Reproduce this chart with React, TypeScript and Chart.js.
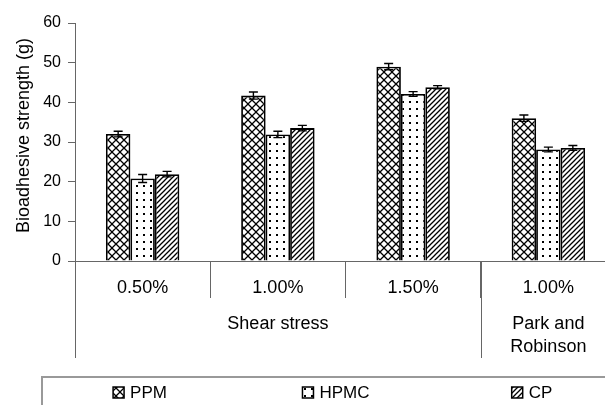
import React, { useEffect, useRef } from "react";
import { Chart, registerables } from "chart.js";

Chart.register(...registerables);

const categories = ["0.50%", "1.00%", "1.50%", "1.00%"];
const groupLines = [["Shear stress"], ["Park and", "Robinson"]];
const groupSpans = [3, 1];
const seriesNames = ["PPM", "HPMC", "CP"];
const ppm = [32.0, 41.7, 49.0, 36.0];
const hpmc = [20.8, 31.9, 42.1, 28.1];
const cp = [21.9, 33.5, 43.8, 28.5];
const ppmErr = [0.7, 0.9, 0.8, 0.8];
const hpmcErr = [1.0, 0.8, 0.6, 0.6];
const cpErr = [0.7, 0.7, 0.4, 0.6];
const yMin = 0;
const yMax = 60;
const yStep = 10;
const yTitle = "Bioadhesive strength (g)";

const FONT = '"Liberation Sans", Arial, Helvetica, sans-serif';
const AXIS_GRAY = "#666666";

function makePattern(kind: string): CanvasPattern | string {
  const c = document.createElement("canvas");
  const size = kind === "cross" ? 8 : kind === "dots" ? 7 : 5;
  c.width = size;
  c.height = size;
  const ctx = c.getContext("2d");
  if (!ctx) return "#fff";
  ctx.fillStyle = "#fff";
  ctx.fillRect(0, 0, size, size);
  ctx.strokeStyle = "#000";
  ctx.fillStyle = "#000";
  if (kind === "cross") {
    ctx.lineWidth = 1.3;
    ctx.beginPath();
    ctx.moveTo(-1, -1);
    ctx.lineTo(size + 1, size + 1);
    ctx.moveTo(-1, size + 1);
    ctx.lineTo(size + 1, -1);
    ctx.stroke();
  } else if (kind === "dots") {
    ctx.fillRect(3, 3, 2, 2);
  } else {
    ctx.lineWidth = 1.3;
    ctx.beginPath();
    ctx.moveTo(-1, size + 1);
    ctx.lineTo(size + 1, -1);
    ctx.moveTo(-1, 1);
    ctx.lineTo(1, -1);
    ctx.moveTo(size - 1, size + 1);
    ctx.lineTo(size + 1, size - 1);
    ctx.stroke();
  }
  const p = ctx.createPattern(c, "repeat");
  return p || "#fff";
}

export default function App() {
  const ref = useRef<HTMLCanvasElement | null>(null);

  useEffect(() => {
    if (!ref.current) return;
    const patterns = [makePattern("cross"), makePattern("dots"), makePattern("stripes")];
    const values = [ppm, hpmc, cp];
    const errors = [ppmErr, hpmcErr, cpErr];

    const extras = {
      id: "extras",
      afterDatasetsDraw(chart: any) {
        const ctx = chart.ctx as CanvasRenderingContext2D;
        const yScale = chart.scales.y;
        ctx.save();
        ctx.strokeStyle = "#000";
        ctx.lineWidth = 1.4;
        chart.data.datasets.forEach((ds: any, di: number) => {
          const meta = chart.getDatasetMeta(di);
          meta.data.forEach((bar: any, i: number) => {
            const v = ds.data[i];
            const e = errors[di][i];
            const yTop = yScale.getPixelForValue(v + e);
            const yBot = yScale.getPixelForValue(v - e);
            const x = bar.x;
            ctx.beginPath();
            ctx.moveTo(x, yTop);
            ctx.lineTo(x, yBot);
            ctx.moveTo(x - 4.5, yTop);
            ctx.lineTo(x + 4.5, yTop);
            ctx.moveTo(x - 4.5, yBot);
            ctx.lineTo(x + 4.5, yBot);
            ctx.stroke();
          });
        });
        ctx.restore();
      },
      afterDraw(chart: any) {
        const ctx = chart.ctx as CanvasRenderingContext2D;
        const xScale = chart.scales.x;
        const area = chart.chartArea;
        const catW = (area.right - area.left) / categories.length;
        ctx.save();
        ctx.fillStyle = "#000";
        ctx.font = `18px ${FONT}`;
        ctx.textAlign = "center";
        ctx.textBaseline = "middle";
        ctx.save();
        ctx.translate(24.5, 135.5);
        ctx.rotate(-Math.PI / 2);
        ctx.fillText(yTitle, 0, 0);
        ctx.restore();

        ctx.strokeStyle = AXIS_GRAY;
        ctx.lineWidth = 1;
        let start = 0;
        groupSpans.forEach((span, gi) => {
          const leftX = xScale.getPixelForValue(start) - catW / 2;
          const rightX = xScale.getPixelForValue(start + span - 1) + catW / 2;
          const lx = Math.round(leftX) + 0.5;
          ctx.beginPath();
          ctx.moveTo(lx, area.bottom);
          ctx.lineTo(lx, area.bottom + 97);
          ctx.stroke();
          const cx = (leftX + rightX) / 2;
          groupLines[gi].forEach((line, li) => {
            ctx.fillText(line, cx, area.bottom + 63 + li * 22.7);
          });
          start += span;
        });

        const boxLeft = 42;
        const boxTop = 377;
        const boxW = 588;
        ctx.strokeStyle = "#999";
        ctx.lineWidth = 2;
        ctx.strokeRect(boxLeft, boxTop, boxW, 60);
        ctx.font = `17px ${FONT}`;
        ctx.textAlign = "left";
        const colW = boxW / seriesNames.length;
        seriesNames.forEach((name, i) => {
          const tw = ctx.measureText(name).width;
          const total = 11 + 6 + tw;
          const x0 = boxLeft + colW * i + (colW - total) / 2;
          const iy = 387;
          ctx.fillStyle = patterns[i] as any;
          ctx.fillRect(x0, iy, 11, 11);
          ctx.strokeStyle = "#000";
          ctx.lineWidth = 1.5;
          ctx.strokeRect(x0, iy, 11, 11);
          ctx.fillStyle = "#000";
          ctx.fillText(name, x0 + 17, 393);
        });
        ctx.restore();
      },
    };

    const chart = new Chart(ref.current, {
      type: "bar",
      data: {
        labels: categories,
        datasets: seriesNames.map((name, i) => ({
          label: name,
          data: values[i],
          backgroundColor: patterns[i] as any,
          borderColor: "#000",
          borderWidth: 1.8,
          categoryPercentage: 0.543,
          barPercentage: 1,
        })),
      },
      options: {
        responsive: false,
        animation: false,
        devicePixelRatio: 1,
        layout: { padding: { top: 23, left: 0, right: 0, bottom: 0 } },
        plugins: {
          legend: { display: false },
          tooltip: { enabled: false },
        },
        scales: {
          x: {
            grid: {
              offset: true,
              drawOnChartArea: false,
              drawTicks: true,
              tickLength: 37,
              color: AXIS_GRAY,
              lineWidth: 1,
            },
            border: { color: AXIS_GRAY, width: 1 },
            ticks: {
              color: "#000",
              font: { family: FONT, size: 18 },
              padding: -21,
              maxRotation: 0,
              autoSkip: false,
            },
            afterFit(scale: any) {
              scale.height = 144;
            },
          },
          y: {
            min: yMin,
            max: yMax,
            ticks: {
              stepSize: yStep,
              color: "#000",
              font: { family: FONT, size: 16 },
              padding: 7,
            },
            grid: {
              drawOnChartArea: false,
              drawTicks: true,
              tickLength: 7,
              color: AXIS_GRAY,
              lineWidth: 1,
            },
            border: { color: AXIS_GRAY, width: 1 },
            afterFit(scale: any) {
              scale.width = 75;
            },
          },
        },
      },
      plugins: [extras],
    });
    return () => chart.destroy();
  }, []);

  return (
    <div
      style={{
        position: "fixed",
        left: 0,
        top: 0,
        width: 605,
        height: 405,
        overflow: "hidden",
        background: "#fff",
      }}
    >
      <canvas ref={ref} width={616} height={405} style={{ display: "block" }} />
    </div>
  );
}
